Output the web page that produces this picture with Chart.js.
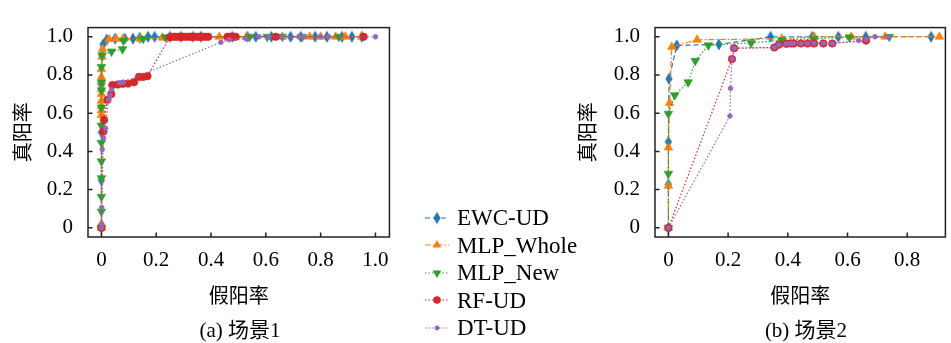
<!DOCTYPE html>
<html>
<head>
<meta charset="utf-8">
<script src="https://cdn.jsdelivr.net/npm/chart.js@4"></script>
<style>
  body { margin: 0; background: #fff; width: 951px; height: 343px; position: relative; overflow: hidden; }
  #wrap1 { position: absolute; left: 0; top: 0; width: 400px; height: 343px; }
  #wrap2 { position: absolute; left: 560px; top: 0; width: 391px; height: 343px; }
  .cap { position: absolute; top: 318px; width: 300px; text-align: center; color: #000;
         font: 21px/24px "Liberation Serif", "Noto Sans CJK SC"; }
  #legend { position: absolute; left: 424px; top: 204px; font: 23px/27.5px "Liberation Serif"; color: #000; }
  .row { height: 27.5px; display: flex; align-items: center; }
  .row canvas { margin-right: 7px; }
</style>
</head>
<body>
<div id="wrap1"><canvas id="chart1" width="400" height="343"></canvas></div>
<div id="wrap2"><canvas id="chart2" width="391" height="343"></canvas></div>
<div class="cap" style="left:90px">(a) 场景1</div>
<div class="cap" style="left:656px">(b) 场景2</div>
<div id="legend"></div>
<script>
// Series names and styles (matplotlib default colours)
const seriesNames = ["EWC-UD", "MLP_Whole", "MLP_New", "RF-UD", "DT-UD"];
const seriesColors = ["#1f77b4", "#ff7f0e", "#2ca02c", "#d62728", "#9467bd"];
const seriesDash = [[5, 3], [6, 2, 1.5, 2], [1.5, 2], [1.5, 2], [1.5, 2]];

// Axis ticks
const xTicks1 = [0, 0.2, 0.4, 0.6, 0.8, 1.0];
const xTickLabels1 = ["0", "0.2", "0.4", "0.6", "0.8", "1.0"];
const xTicks2 = [0, 0.2, 0.4, 0.6, 0.8];
const xTickLabels2 = ["0", "0.2", "0.4", "0.6", "0.8"];
const yTicks = [0, 0.2, 0.4, 0.6, 0.8, 1.0];
const yTickLabels = ["0", "0.2", "0.4", "0.6", "0.8", "1.0"];

// ---- Scene 1 (a) ----
const s1EwcX = [0, 0, 0, 0, 0.003, 0.006, 0.019, 0.05, 0.085, 0.115, 0.14, 0.17, 0.194, 0.25, 0.29, 0.333, 0.363, 0.478, 0.533, 0.563, 0.62, 0.69, 0.727, 0.78, 0.823, 0.878, 0.914, 0.95];
const s1EwcY = [0, 0.25, 0.5, 0.75, 0.9, 0.96, 0.985, 0.99, 0.99, 0.99, 0.995, 1, 1, 1, 1, 1, 1, 1, 1, 1, 1, 1, 1, 1, 1, 1, 1, 1];

const s1WholeX = [0, 0, 0, 0, 0, 0, 0, 0, 0, 0, 0, 0.002, 0.004, 0.028, 0.053, 0.079, 0.142, 0.222, 0.43, 0.53, 0.66, 0.76, 0.8, 0.855, 0.89, 0.95];
const s1WholeY = [0, 0.02, 0.59, 0.614, 0.638, 0.665, 0.70, 0.726, 0.767, 0.79, 0.83, 0.895, 0.936, 0.987, 0.99, 0.99, 0.99, 0.995, 1, 1, 1, 1, 1, 1, 1, 1];

const s1NewX = [0, 0, 0, 0, 0, 0, 0, 0, 0, 0, 0, 0.002, 0.037, 0.077, 0.08, 0.152, 0.234, 0.541, 0.605, 0.66, 0.733, 0.866];
const s1NewY = [0, 0.085, 0.163, 0.26, 0.348, 0.445, 0.535, 0.63, 0.72, 0.76, 0.842, 0.903, 0.923, 0.935, 0.98, 0.99, 0.997, 1, 1, 1, 1, 1];

const s1RfX = [0, 0.007, 0.01, 0.022, 0.036, 0.04, 0.06, 0.079, 0.097, 0.119, 0.137, 0.152, 0.168, 0.249, 0.26, 0.27, 0.28, 0.29, 0.3, 0.31, 0.32, 0.33, 0.34, 0.35, 0.36, 0.37, 0.38, 0.39, 0.46, 0.47, 0.48, 0.49, 0.636, 0.957];
const s1RfY = [0, 0.504, 0.565, 0.67, 0.70, 0.747, 0.75, 0.754, 0.755, 0.762, 0.79, 0.79, 0.794, 0.997, 1, 1, 1, 1, 1, 1, 1, 1, 1, 1, 1, 1, 1, 1, 1, 1, 1, 1, 1, 1];

const s1DtX = [0, 0.001, 0.001, 0.003, 0.008, 0.015, 0.025, 0.031, 0.037, 0.067, 0.08, 0.436, 0.466, 0.527, 0.575, 0.61, 0.66, 0.72, 0.74, 0.8, 0.83, 1.0];
const s1DtY = [0, 0.02, 0.106, 0.41, 0.47, 0.52, 0.67, 0.694, 0.723, 0.758, 0.762, 0.971, 0.985, 0.99, 1, 1, 1, 1, 1, 1, 1, 1];

// ---- Scene 2 (b) ----
const s2EwcX = [0, 0, 0, 0.002, 0.028, 0.169, 0.342, 0.482, 0.569, 0.661, 0.88];
const s2EwcY = [0, 0.227, 0.45, 0.78, 0.955, 0.96, 1.0, 1.0, 1.0, 1.0, 1.0];

const s2WholeX = [0, 0, 0, 0.004, 0.011, 0.096, 0.38, 0.488, 0.612, 0.726, 0.908];
const s2WholeY = [0, 0.22, 0.42, 0.654, 0.947, 0.984, 0.99, 1.0, 1.0, 1.0, 1.0];

const s2NewX = [0, 0, 0, 0.021, 0.066, 0.09, 0.134, 0.277, 0.38, 0.488, 0.606, 0.74];
const s2NewY = [0, 0.283, 0.597, 0.694, 0.762, 0.874, 0.955, 0.968, 0.982, 0.99, 0.997, 1.0];

const s2RfX = [0, 0.213, 0.22, 0.355, 0.37, 0.395, 0.41, 0.42, 0.444, 0.466, 0.488, 0.519, 0.549, 0.662];
const s2RfY = [0, 0.883, 0.94, 0.944, 0.958, 0.963, 0.965, 0.965, 0.965, 0.965, 0.965, 0.965, 0.965, 0.98];

const s2DtX = [0, 0.206, 0.208, 0.213, 0.22, 0.355, 0.37, 0.395, 0.41, 0.42, 0.444, 0.466, 0.488, 0.519, 0.549, 0.637, 0.662, 0.692, 0.736];
const s2DtY = [0, 0.585, 0.73, 0.883, 0.94, 0.944, 0.958, 0.963, 0.965, 0.965, 0.965, 0.965, 0.965, 0.965, 0.965, 0.98, 0.985, 1.0, 1.0];

const serifFont = '"Liberation Serif"';
const cjkFont = '"Noto Sans CJK SC"';

// Thin diamond marker (matplotlib "d") as a small canvas image
function makeDiamond(color) {
  const c = document.createElement("canvas");
  c.width = 8;
  c.height = 13;
  const g = c.getContext("2d");
  g.fillStyle = color;
  g.beginPath();
  g.moveTo(4, 0.5);
  g.lineTo(7.6, 6.5);
  g.lineTo(4, 12.5);
  g.lineTo(0.4, 6.5);
  g.closePath();
  g.fill();
  return c;
}
const diamondImg = makeDiamond(seriesColors[0]);

const markerStyle = [
  { pointStyle: diamondImg, pointRadius: 5 },
  { pointStyle: "triangle", pointRadius: 5 },
  { pointStyle: "triangle", pointRadius: 5, pointRotation: 180 },
  { pointStyle: "circle", pointRadius: 3.8 },
  { pointStyle: "circle", pointRadius: 2.4 },
];

function toPoints(xs, ys) {
  return xs.map((x, i) => ({ x: x, y: ys[i] }));
}

function buildDatasets(xsList, ysList) {
  return seriesNames.map((name, i) => Object.assign({
    label: name,
    data: toPoints(xsList[i], ysList[i]),
    showLine: true,
    borderColor: seriesColors[i],
    backgroundColor: seriesColors[i],
    borderWidth: 1.2,
    borderDash: seriesDash[i],
    pointBackgroundColor: seriesColors[i],
    pointBorderColor: seriesColors[i],
    pointBorderWidth: 0.6,
    tension: 0,
    order: 5 - i, // DT-UD drawn on top, like matplotlib
  }, markerStyle[i]));
}

// Box frame plus inward tick marks on the left and bottom
const framePlugin = {
  id: "frame",
  afterDatasetsDraw(chart) {
    const { ctx, chartArea: a, scales } = chart;
    ctx.save();
    ctx.strokeStyle = "#222";
    ctx.lineWidth = 1.5;
    ctx.setLineDash([]);
    ctx.strokeRect(a.left, a.top, a.right - a.left, a.bottom - a.top);
    ctx.beginPath();
    scales.x.ticks.forEach((t) => {
      const px = scales.x.getPixelForValue(t.value);
      ctx.moveTo(px, a.bottom);
      ctx.lineTo(px, a.bottom - 4.5);
    });
    scales.y.ticks.forEach((t) => {
      const py = scales.y.getPixelForValue(t.value);
      ctx.moveTo(a.left, py);
      ctx.lineTo(a.left + 4.5, py);
    });
    ctx.stroke();
    ctx.restore();
  },
};

function buildOptions(xMin, xMax, xTicks, xLabels, yWidth, yTitlePad, rightPad) {
  return {
    responsive: false,
    animation: false,
    events: [],
    layout: { padding: { top: 10, right: rightPad, left: 0, bottom: 0 } },
    plugins: { legend: { display: false }, tooltip: { enabled: false } },
    scales: {
      x: {
        type: "linear",
        min: xMin,
        max: xMax,
        afterBuildTicks: (s) => { s.ticks = xTicks.map((v) => ({ value: v })); },
        afterFit: (s) => { s.height = 106; },
        grid: { display: false, drawTicks: false },
        border: { display: false },
        ticks: {
          callback: (v, i) => xLabels[i],
          padding: 11,
          color: "#000",
          maxRotation: 0,
          autoSkip: false,
          font: { family: serifFont, size: 21 },
        },
        title: {
          display: true,
          text: "假阳率",
          color: "#000",
          font: { family: cjkFont, size: 20 },
          padding: { top: 0, bottom: 36 },
        },
      },
      y: {
        type: "linear",
        min: -0.048,
        max: 1.048,
        afterBuildTicks: (s) => { s.ticks = yTicks.map((v) => ({ value: v })); },
        afterFit: (s) => { s.width = yWidth; },
        grid: { display: false, drawTicks: false },
        border: { display: false },
        ticks: {
          callback: (v, i) => yTickLabels[i],
          padding: 15,
          color: "#000",
          autoSkip: false,
          font: { family: serifFont, size: 21 },
        },
        title: {
          display: true,
          text: "真阳率",
          color: "#000",
          font: { family: cjkFont, size: 20 },
          padding: { top: yTitlePad, bottom: 0 },
        },
      },
    },
  };
}

new Chart(document.getElementById("chart1").getContext("2d"), {
  type: "scatter",
  data: {
    datasets: buildDatasets(
      [s1EwcX, s1WholeX, s1NewX, s1RfX, s1DtX],
      [s1EwcY, s1WholeY, s1NewY, s1RfY, s1DtY]
    ),
  },
  options: buildOptions(-0.049, 1.051, xTicks1, xTickLabels1, 88, 10, 9),
  plugins: [framePlugin],
});

new Chart(document.getElementById("chart2").getContext("2d"), {
  type: "scatter",
  data: {
    datasets: buildDatasets(
      [s2EwcX, s2WholeX, s2NewX, s2RfX, s2DtX],
      [s2EwcY, s2WholeY, s2NewY, s2RfY, s2DtY]
    ),
  },
  options: buildOptions(-0.045, 0.928, xTicks2, xTickLabels2, 95, 15, 1),
  plugins: [framePlugin],
});

// Shared legend between the two panels
function drawSample(canvas, i) {
  const g = canvas.getContext("2d");
  const color = seriesColors[i];
  g.strokeStyle = color;
  g.fillStyle = color;
  g.lineWidth = 1.2;
  g.setLineDash(seriesDash[i]);
  g.beginPath();
  g.moveTo(1, 10);
  g.lineTo(25, 10);
  g.stroke();
  g.setLineDash([]);
  const cx = 13, cy = 10, r = markerStyle[i].pointRadius;
  g.beginPath();
  if (i === 0) {
    g.drawImage(diamondImg, cx - 4, cy - 6.5);
    return;
  } else if (i === 1 || i === 2) {
    const s = i === 1 ? 1 : -1;
    g.moveTo(cx, cy - s * r);
    g.lineTo(cx + r * 0.866, cy + s * r * 0.5);
    g.lineTo(cx - r * 0.866, cy + s * r * 0.5);
    g.closePath();
  } else {
    g.arc(cx, cy, r, 0, Math.PI * 2);
  }
  g.fill();
}

const legendEl = document.getElementById("legend");
seriesNames.forEach((name, i) => {
  const row = document.createElement("div");
  row.className = "row";
  const c = document.createElement("canvas");
  c.width = 26;
  c.height = 20;
  drawSample(c, i);
  const span = document.createElement("span");
  span.textContent = name;
  row.appendChild(c);
  row.appendChild(span);
  legendEl.appendChild(row);
});
</script>
</body>
</html>
